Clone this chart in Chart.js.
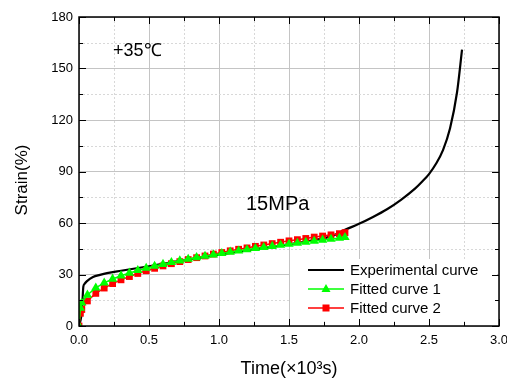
<!DOCTYPE html>
<html>
<head>
<meta charset="utf-8">
<script src="https://cdn.jsdelivr.net/npm/chart.js@4"></script>
<style>
  html, body { margin: 0; padding: 0; background: #fff; }
  #wrap { width: 507px; height: 381px; }
</style>
</head>
<body>
<div id="wrap"><canvas id="creepChart" width="507" height="381"></canvas></div>
<script>
// Experimental curve (time in 10^3 s, strain in %)
const expTime = [0, 0.01, 0.019, 0.025, 0.031, 0.04, 0.055, 0.1, 0.15, 0.2, 0.3, 0.4, 0.5, 0.6, 0.7, 0.8, 0.9, 1.0,
  1.1, 1.2, 1.3, 1.4, 1.5, 1.6, 1.7, 1.8, 1.9, 2.0, 2.1, 2.2, 2.3, 2.4, 2.45, 2.5, 2.55, 2.6, 2.65, 2.7, 2.736];
const expStrain = [0, 3, 7.6, 15, 22.9, 24.6, 26, 28.6, 29.8, 30.8, 32.2, 33.5, 34.8, 36.2, 37.6, 39, 40.3, 41.5,
  42.8, 44, 45.2, 46.4, 47.6, 48.9, 50.3, 52.2, 56, 59.5, 63.5, 68, 73.5, 80, 84, 88.5, 94.5, 102.5, 115, 136, 161];

// Fitted curves share the same time points
const fitTime = [0, 0.01, 0.02, 0.06, 0.12, 0.18, 0.24, 0.3, 0.36, 0.42, 0.48, 0.54, 0.6, 0.66, 0.72, 0.78, 0.84,
  0.9, 0.96, 1.02, 1.08, 1.14, 1.2, 1.26, 1.32, 1.38, 1.44, 1.5, 1.56, 1.62, 1.68, 1.74, 1.8, 1.86, 1.9];
const fit1Strain = [0, 10.5, 13.5, 18.1, 22.2, 25.1, 27.4, 29.3, 30.9, 32.4, 33.7, 34.9, 36.0, 37.1, 38.0, 39.0, 39.9,
  40.7, 41.5, 42.3, 43.1, 43.8, 44.5, 45.2, 45.8, 46.5, 47.1, 47.7, 48.3, 48.9, 49.5, 50.1, 50.6, 51.2, 51.6];
const fit2Strain = [0, 7.4, 9.6, 14.6, 19.0, 22.1, 24.7, 26.9, 28.8, 30.6, 32.2, 33.6, 35.0, 36.3, 37.5, 38.7, 39.8,
  40.8, 41.9, 42.8, 43.8, 44.7, 45.5, 46.4, 47.2, 48.0, 48.8, 49.6, 50.3, 51.0, 51.8, 52.4, 53.1, 53.8, 54.4];

const xTicks = [0, 0.5, 1.0, 1.5, 2.0, 2.5, 3.0];
const yTicks = [0, 30, 60, 90, 120, 150, 180];

const legendLabels = ['Experimental curve', 'Fitted curve 1', 'Fitted curve 2'];

const FONT = "'Liberation Sans', Arial, sans-serif";

function toPoints(xs, ys) {
  return xs.map((x, i) => ({ x: x, y: ys[i] }));
}

// minor dotted grid, drawn under the data
const minorGrid = {
  id: 'minorGrid',
  beforeDatasetsDraw(chart) {
    const { ctx, chartArea: a, scales: { x, y } } = chart;
    ctx.save();
    ctx.strokeStyle = '#d8d8d8';
    ctx.lineWidth = 1;
    ctx.setLineDash([2, 2]);
    for (let i = 0; i < xTicks.length - 1; i++) {
      const px = Math.round(x.getPixelForValue((xTicks[i] + xTicks[i + 1]) / 2)) + 0.5;
      ctx.beginPath(); ctx.moveTo(px, a.top); ctx.lineTo(px, a.bottom); ctx.stroke();
    }
    for (let i = 0; i < yTicks.length - 1; i++) {
      const py = Math.round(y.getPixelForValue((yTicks[i] + yTicks[i + 1]) / 2)) + 0.5;
      ctx.beginPath(); ctx.moveTo(a.left, py); ctx.lineTo(a.right, py); ctx.stroke();
    }
    ctx.restore();
  }
};

// inward ticks on all sides, annotations, legend box, axis titles
const extras = {
  id: 'extras',
  afterDraw(chart) {
    const { ctx, chartArea: a, scales: { x, y } } = chart;
    ctx.save();

    // legend with white background
    ctx.fillStyle = '#fff';
    ctx.fillRect(290, 259, 207, 62);
    const rows = [270, 289, 308];
    const colors = ['#000', '#00ff00', '#ff0000'];
    for (let i = 0; i < 3; i++) {
      ctx.strokeStyle = colors[i];
      ctx.lineWidth = i === 0 ? 2.2 : 1.5;
      ctx.beginPath(); ctx.moveTo(308, rows[i]); ctx.lineTo(344, rows[i]); ctx.stroke();
      ctx.fillStyle = colors[i];
      if (i === 1) {
        ctx.beginPath();
        ctx.moveTo(326, rows[i] - 5); ctx.lineTo(330.5, rows[i] + 3); ctx.lineTo(321.5, rows[i] + 3);
        ctx.closePath(); ctx.fill();
      } else if (i === 2) {
        ctx.fillRect(322.5, rows[i] - 3.5, 7, 7);
      }
      ctx.fillStyle = '#000';
      ctx.font = '15px ' + FONT;
      ctx.textBaseline = 'middle';
      ctx.textAlign = 'left';
      ctx.fillText(legendLabels[i], 350, rows[i] + 1);
    }

    // ticks
    ctx.strokeStyle = '#000';
    ctx.lineWidth = 1;
    const tick = (x1, y1, x2, y2) => { ctx.beginPath(); ctx.moveTo(x1, y1); ctx.lineTo(x2, y2); ctx.stroke(); };
    for (let i = 0; i < xTicks.length; i++) {
      const px = Math.round(x.getPixelForValue(xTicks[i])) + 0.5;
      tick(px, a.bottom, px, a.bottom - 7);
      tick(px, a.top, px, a.top + 7);
      if (i < xTicks.length - 1) {
        const pm = Math.round(x.getPixelForValue((xTicks[i] + xTicks[i + 1]) / 2)) + 0.5;
        tick(pm, a.bottom, pm, a.bottom - 4);
        tick(pm, a.top, pm, a.top + 4);
      }
    }
    for (let i = 0; i < yTicks.length; i++) {
      const py = Math.round(y.getPixelForValue(yTicks[i])) + 0.5;
      tick(a.left, py, a.left + 7, py);
      tick(a.right, py, a.right - 7, py);
      if (i < yTicks.length - 1) {
        const pm = Math.round(y.getPixelForValue((yTicks[i] + yTicks[i + 1]) / 2)) + 0.5;
        tick(a.left, pm, a.left + 4, pm);
        tick(a.right, pm, a.right - 4, pm);
      }
    }

    // frame
    ctx.lineWidth = 1.5;
    ctx.strokeRect(a.left, a.top, a.right - a.left, a.bottom - a.top);

    // annotations
    ctx.fillStyle = '#000';
    ctx.textBaseline = 'middle';
    ctx.textAlign = 'left';
    ctx.font = '18px ' + FONT;
    ctx.fillText('+35℃', 113, 51);
    ctx.font = '20px ' + FONT;
    ctx.fillText('15MPa', 246, 204);

    // axis titles
    ctx.textAlign = 'center';
    ctx.font = '18px ' + FONT;
    ctx.fillText('Time(×10³s)', 289, 369);
    ctx.translate(22, 180);
    ctx.rotate(-Math.PI / 2);
    ctx.font = '17px ' + FONT;
    ctx.fillText('Strain(%)', 0, 0);

    ctx.restore();
  }
};

document.addEventListener('DOMContentLoaded', function () {
  const ctx = document.getElementById('creepChart').getContext('2d');

  new Chart(ctx, {
    type: 'line',
    data: {
      datasets: [
        {
          label: legendLabels[2],
          data: toPoints(fitTime, fit2Strain),
          borderColor: '#ff0000',
          backgroundColor: '#ff0000',
          borderWidth: 1.5,
          pointStyle: 'rect',
          pointRadius: 4.8,
          pointBorderWidth: 0,
          order: 2
        },
        {
          label: legendLabels[1],
          data: toPoints(fitTime, fit1Strain),
          borderColor: '#00ff00',
          backgroundColor: '#00ff00',
          borderWidth: 1.5,
          pointStyle: 'triangle',
          pointRadius: 5.4,
          pointBorderWidth: 0,
          order: 1
        },
        {
          label: legendLabels[0],
          data: toPoints(expTime, expStrain),
          borderColor: '#000',
          borderWidth: 2.2,
          pointRadius: 0,
          cubicInterpolationMode: 'monotone',
          order: 3
        }
      ]
    },
    options: {
      responsive: false,
      animation: false,
      layout: { padding: { top: 17, right: 8, left: 0, bottom: 0 } },
      plugins: {
        legend: { display: false },
        tooltip: { enabled: false }
      },
      scales: {
        x: {
          type: 'linear',
          min: 0,
          max: 3,
          afterFit: function (scale) {
            scale.height = 55;
            scale.paddingLeft = 0;
            scale.paddingRight = 0;
          },
          afterBuildTicks: function (scale) { scale.ticks = xTicks.map(v => ({ value: v })); },
          ticks: {
            padding: 7,
            color: '#000',
            font: { family: FONT, size: 13 },
            callback: v => v.toFixed(1)
          },
          grid: { color: '#c4c4c4', lineWidth: 1, drawTicks: false },
          border: { display: false }
        },
        y: {
          type: 'linear',
          min: 0,
          max: 180,
          afterFit: function (scale) {
            scale.width = 79;
            scale.paddingTop = 0;
            scale.paddingBottom = 0;
          },
          afterBuildTicks: function (scale) { scale.ticks = yTicks.map(v => ({ value: v })); },
          ticks: {
            padding: 6,
            color: '#000',
            font: { family: FONT, size: 13 }
          },
          grid: { color: '#c4c4c4', lineWidth: 1, drawTicks: false },
          border: { display: false }
        }
      }
    },
    plugins: [minorGrid, extras]
  });
});
</script>
</body>
</html>
